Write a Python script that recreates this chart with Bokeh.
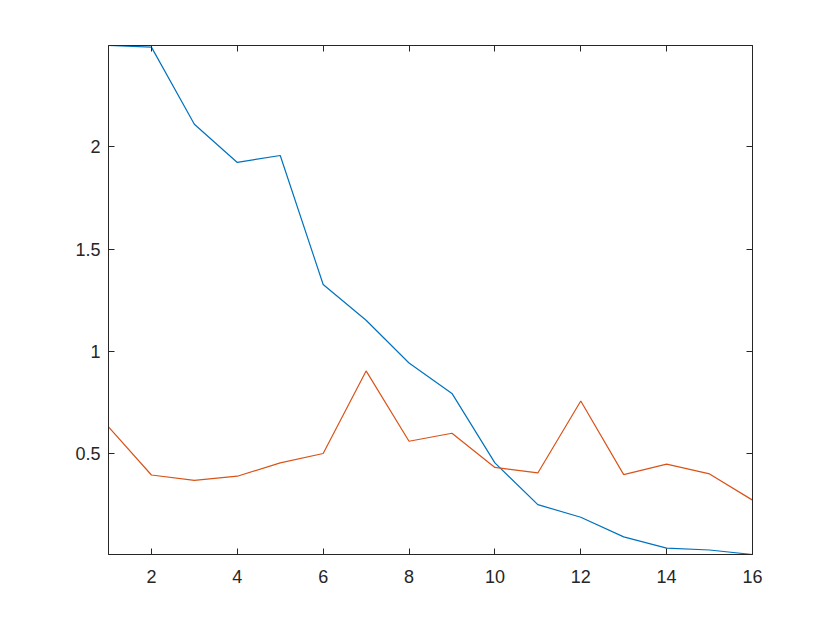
from bokeh.plotting import figure
from bokeh.models import Range1d, FixedTicker, LinearAxis
from bokeh.embed import file_html
from bokeh.resources import INLINE

x_vals = list(range(1, 17))
series_blue = [2.496, 2.488, 2.111, 1.924, 1.958, 1.327, 1.152, 0.943, 0.794,
               0.454, 0.250, 0.188, 0.092, 0.037, 0.028, 0.006]
series_orange = [0.630, 0.395, 0.369, 0.389, 0.454, 0.500, 0.904, 0.560, 0.599,
                 0.432, 0.405, 0.757, 0.397, 0.448, 0.400, 0.272]
x_ticks = [2, 4, 6, 8, 10, 12, 14, 16]
y_ticks = [0.5, 1, 1.5, 2]

AX = "#262626"
FONT = "Liberation Sans"

p = figure(output_backend="svg", toolbar_location=None,
           frame_width=644, frame_height=509,
           min_border_left=108, min_border_top=45, min_border_right=50, min_border_bottom=50,
           x_range=Range1d(1, 16), y_range=Range1d(0.006, 2.496),
           background_fill_color="white", border_fill_color="white")
p.outline_line_color = AX
p.outline_line_width = 1
p.grid.visible = False

p.line(x_vals, series_blue, line_color="#0072BD", line_width=1.2)
p.line(x_vals, series_orange, line_color="#D95319", line_width=1.2)

def style(ax, labels=True):
    ax.axis_line_color = AX
    ax.major_tick_line_color = AX
    ax.major_tick_in = 6
    ax.major_tick_out = 0
    ax.minor_tick_line_color = None
    ax.major_label_text_font = FONT
    ax.major_label_text_font_size = "18px"
    ax.major_label_text_color = AX
    if not labels:
        ax.major_label_text_font_size = "0px"
        ax.major_label_text_alpha = 0

xa = p.xaxis[0]
xa.ticker = FixedTicker(ticks=x_ticks)
style(xa)
xa.major_label_standoff = 15
ya = p.yaxis[0]
ya.ticker = FixedTicker(ticks=y_ticks)
style(ya)
ya.major_label_standoff = 8

top = LinearAxis(ticker=FixedTicker(ticks=x_ticks))
style(top, labels=False)
p.add_layout(top, "above")
right = LinearAxis(ticker=FixedTicker(ticks=y_ticks))
style(right, labels=False)
p.add_layout(right, "right")

open("out.html", "w").write(file_html(p, INLINE))
